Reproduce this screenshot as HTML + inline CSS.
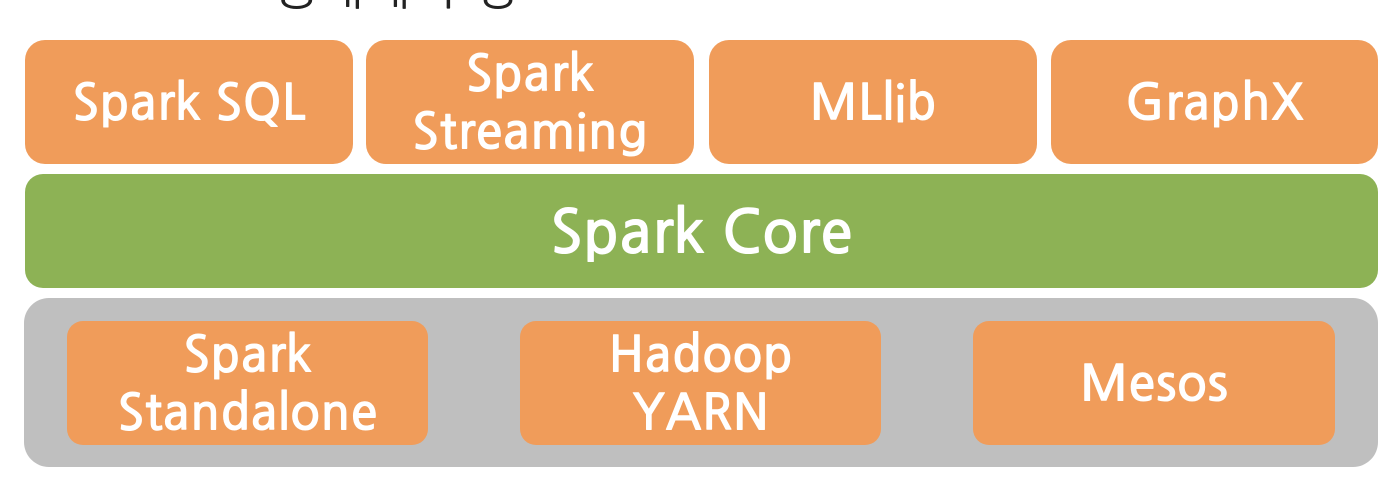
<!DOCTYPE html>
<html><head><meta charset="utf-8"><style>
body{margin:0;width:1396px;height:486px;background:#fff;position:relative;overflow:hidden;font-family:"NanumGothic","Liberation Sans",sans-serif;}
.b{position:absolute;background:#f09c5a;color:#fff;display:flex;align-items:center;justify-content:center;text-align:center;font-size:50px;line-height:58px;font-weight:bold;padding-top:4px;box-sizing:border-box;}
.t{border-radius:20px;top:40px;height:124px;width:328px;}
.i{border-radius:16px;top:321px;height:124px;width:361px;}
</style></head><body>
<div style="position:absolute;left:270px;top:-44px;font-size:50px;color:#222;">생태계 구성</div>
<div class="b t" style="left:25px;">Spark SQL</div>
<div class="b t" style="left:366px;">Spark<br>Streaming</div>
<div class="b t" style="left:709px;">MLlib</div>
<div class="b t" style="left:1051px;width:327px;">GraphX</div>
<div class="b" style="left:25px;top:174px;width:1353px;height:114px;border-radius:18px;background:#8db255;font-size:60px;">Spark Core</div>
<div style="position:absolute;left:24px;top:298px;width:1354px;height:169px;border-radius:25px;background:#bfbfbf;"></div>
<div class="b i" style="left:67px;">Spark<br>Standalone</div>
<div class="b i" style="left:520px;">Hadoop<br>YARN</div>
<div class="b i" style="left:973px;width:362px;">Mesos</div>
</body></html>
